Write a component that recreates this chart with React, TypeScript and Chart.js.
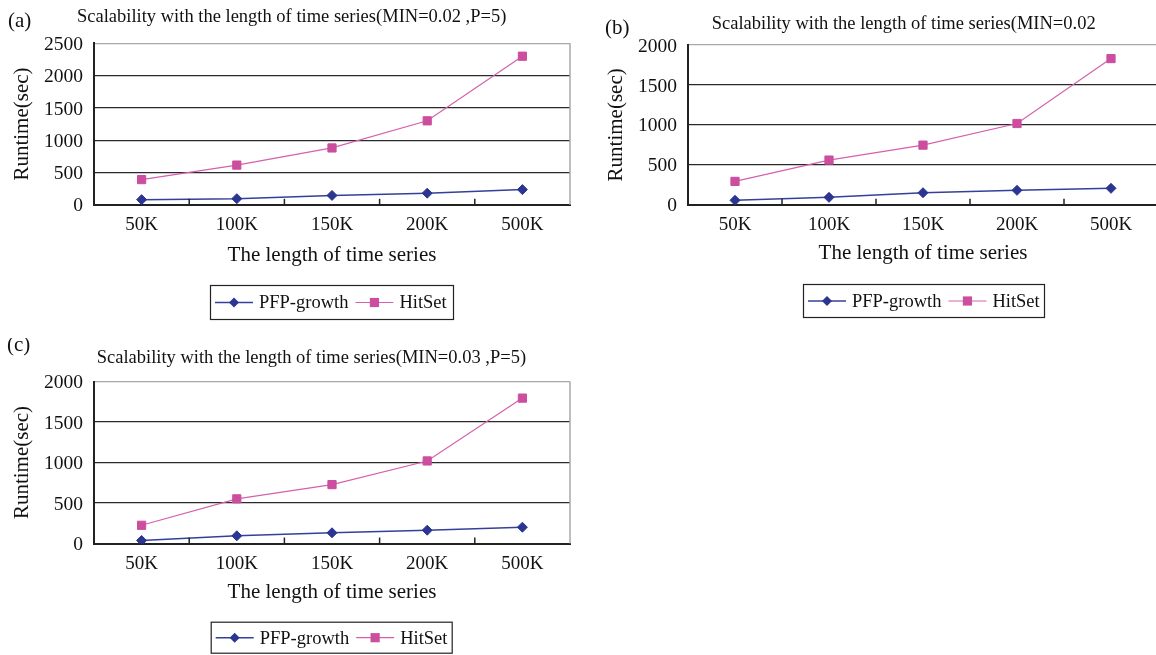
import React, { useEffect, useRef } from "react";
import { Chart, registerables } from "chart.js";

Chart.register(...registerables);

// ---------- data ----------
const categories = ["50K", "100K", "150K", "200K", "500K"];
const seriesNames = ["PFP-growth", "HitSet"];

const pfpA = [80, 95, 145, 180, 235];
const hitA = [390, 615, 880, 1300, 2300];
const pfpB = [55, 92, 150, 180, 205];
const hitB = [292, 559, 746, 1017, 1830];
const pfpC = [37, 95, 132, 164, 201];
const hitC = [225, 551, 727, 1019, 1795];

const yMaxA = 2500;
const yMaxB = 2000;
const yMaxC = 2000;
const yStep = 500;

const titleA = "Scalability with the length of time series(MIN=0.02 ,P=5)";
const titleB = "Scalability with the length of time series(MIN=0.02";
const titleC = "Scalability with the length of time series(MIN=0.03 ,P=5)";
const yTitle = "Runtime(sec)";
const xTitle = "The length of time series";

// ---------- styling ----------
const FONT = '"Liberation Serif", "Times New Roman", serif';
const PFP_COLOR = "#2B3592";
const PFP_LINE = "#34409A";
const HIT_COLOR = "#CC4E9E";
const HIT_LINE = "#D660AC";

type Panel = {
  key: string;
  left: number;
  top: number;
  width: number;
  height: number;
  plot: { left: number; top: number; right: number; bottom: number };
  label: string;
  labelPos: [number, number];
  title: string;
  titlePos: [number, number];
  legend: { x: number; y: number; w: number; h: number };
  xTitlePad: number;
  pfp: number[];
  hit: number[];
  yMax: number;
};

const panels: Panel[] = [
  {
    key: "a",
    left: 0,
    top: 0,
    width: 590,
    height: 330,
    plot: { left: 94, top: 43.3, right: 570, bottom: 204.8 },
    label: "(a)",
    labelPos: [8, 21],
    title: titleA,
    titlePos: [77, 17],
    legend: { x: 210, y: 285, w: 243, h: 34 },
    xTitlePad: 62,
    pfp: pfpA,
    hit: hitA,
    yMax: yMaxA,
  },
  {
    key: "b",
    left: 594,
    top: 0,
    width: 590,
    height: 330,
    plot: { left: 94, top: 45, right: 564, bottom: 204.7 },
    label: "(b)",
    labelPos: [11, 28],
    title: titleB,
    titlePos: [117.7, 24],
    legend: { x: 209, y: 284, w: 241, h: 33 },
    xTitlePad: 64,
    pfp: pfpB,
    hit: hitB,
    yMax: yMaxB,
  },
  {
    key: "c",
    left: 0,
    top: 338,
    width: 590,
    height: 317,
    plot: { left: 94, top: 43.5, right: 570, bottom: 205.5 },
    label: "(c)",
    labelPos: [7, 7],
    title: titleC,
    titlePos: [96.7, 20],
    legend: { x: 210.7, y: 283.7, w: 241, h: 31 },
    xTitlePad: 50,
    pfp: pfpC,
    hit: hitC,
    yMax: yMaxC,
  },
];

function drawMarker(ctx: CanvasRenderingContext2D, style: string, x: number, y: number, color: string) {
  ctx.fillStyle = color;
  ctx.beginPath();
  if (style === "rectRot") {
    const r = 5;
    ctx.moveTo(x - r, y);
    ctx.lineTo(x, y - r);
    ctx.lineTo(x + r, y);
    ctx.lineTo(x, y + r);
    ctx.closePath();
  } else {
    const s = 4.6;
    ctx.rect(x - s, y - s, 2 * s, 2 * s);
  }
  ctx.fill();
}

function makeDeco(p: Panel) {
  return {
    id: "deco_" + p.key,
    afterDraw(chart: any) {
      const { ctx, chartArea } = chart;
      const xs = chart.scales.x;
      ctx.save();
      // right border
      ctx.strokeStyle = "#A8A8A8";
      ctx.lineWidth = 1.5;
      ctx.beginPath();
      ctx.moveTo(chartArea.right, chartArea.top);
      ctx.lineTo(chartArea.right, chartArea.bottom);
      ctx.stroke();
      // inner tick marks between categories
      ctx.strokeStyle = "#222";
      ctx.lineWidth = 1.5;
      for (let i = 1; i < categories.length; i++) {
        const bx = (xs.getPixelForValue(i - 1) + xs.getPixelForValue(i)) / 2;
        ctx.beginPath();
        ctx.moveTo(bx, chartArea.bottom);
        ctx.lineTo(bx, chartArea.bottom - 6);
        ctx.stroke();
      }
      // panel label
      ctx.fillStyle = "#111";
      ctx.textBaseline = "middle";
      ctx.textAlign = "left";
      ctx.font = `21px ${FONT}`;
      ctx.fillText(p.label, p.labelPos[0], p.labelPos[1]);
      // title
      ctx.font = `18.5px ${FONT}`;
      ctx.fillText(p.title, p.titlePos[0], p.titlePos[1]);
      // legend
      const L = p.legend;
      ctx.strokeStyle = "#222";
      ctx.lineWidth = 1.2;
      ctx.strokeRect(L.x + 0.5, L.y + 0.5, L.w, L.h);
      const cy = L.y + L.h / 2 + 0.5;
      let cx = L.x + 5;
      ctx.font = `18.5px ${FONT}`;
      chart.data.datasets.forEach((ds: any) => {
        ctx.strokeStyle = ds.borderColor;
        ctx.lineWidth = ds.borderWidth;
        ctx.beginPath();
        ctx.moveTo(cx, cy);
        ctx.lineTo(cx + 38, cy);
        ctx.stroke();
        drawMarker(ctx, ds.pointStyle, cx + 19, cy, ds.pointBackgroundColor);
        ctx.fillStyle = "#111";
        ctx.fillText(ds.label, cx + 44, cy + 1);
        cx = cx + 44 + ctx.measureText(ds.label).width + 7;
      });
      ctx.restore();
    },
  };
}

function PanelChart({ p }: { p: Panel }) {
  const ref = useRef<HTMLCanvasElement | null>(null);
  useEffect(() => {
    if (!ref.current) return;
    const xHeight = p.height - p.plot.bottom;
    const chart = new Chart(ref.current, {
      type: "line",
      data: {
        labels: categories,
        datasets: [
          {
            label: seriesNames[0],
            data: p.pfp,
            borderColor: PFP_LINE,
            borderWidth: 1.5,
            pointStyle: "rectRot",
            pointRadius: 5,
            pointBackgroundColor: PFP_COLOR,
            pointBorderColor: PFP_COLOR,
            pointBorderWidth: 1,
            tension: 0,
          },
          {
            label: seriesNames[1],
            data: p.hit,
            borderColor: HIT_LINE,
            borderWidth: 1.2,
            pointStyle: "rect",
            pointRadius: 5.8,
            pointBackgroundColor: HIT_COLOR,
            pointBorderColor: HIT_COLOR,
            pointBorderWidth: 1,
            tension: 0,
          },
        ],
      },
      options: {
        animation: false,
        responsive: false,
        maintainAspectRatio: false,
        devicePixelRatio: 1,
        color: "#111",
        layout: {
          padding: { left: 0, top: p.plot.top, right: p.width - p.plot.right, bottom: 0 },
        },
        plugins: {
          legend: { display: false },
          title: { display: false },
          tooltip: { enabled: false },
        },
        scales: {
          x: {
            type: "category",
            offset: true,
            grid: { display: false, drawTicks: false },
            border: { display: true, color: "#222", width: 2 },
            ticks: { color: "#111", font: { family: FONT, size: 19 }, padding: 9, maxRotation: 0 },
            title: {
              display: true,
              text: xTitle,
              color: "#111",
              font: { family: FONT, size: 21 },
              padding: { top: 0, bottom: p.xTitlePad },
            },
            afterFit: (s: any) => {
              s.height = xHeight;
            },
          },
          y: {
            min: 0,
            max: p.yMax,
            ticks: {
              stepSize: yStep,
              color: "#111",
              font: { family: FONT, size: 19.5 },
              padding: 11,
              labelOffset: 1.5,
              callback: (v: any) => String(v),
            },
            grid: {
              drawTicks: false,
              color: (c: any) => (c.tick && c.tick.value === p.yMax ? "#A8A8A8" : "#2A2A2A"),
              lineWidth: 1.3,
            },
            border: { display: true, color: "#222", width: 2 },
            title: {
              display: true,
              text: yTitle,
              color: "#111",
              font: { family: FONT, size: 21 },
              padding: { top: 10, bottom: 0 },
            },
            afterFit: (s: any) => {
              s.width = p.plot.left;
            },
          },
        },
      } as any,
      plugins: [makeDeco(p)],
    });
    return () => chart.destroy();
  }, [p]);
  return (
    <canvas
      ref={ref}
      width={p.width}
      height={p.height}
      style={{ position: "absolute", left: p.left, top: p.top, width: p.width, height: p.height }}
    />
  );
}

export default function App() {
  return (
    <div
      style={{
        position: "fixed",
        left: 0,
        top: 0,
        width: 1156,
        height: 655,
        overflow: "hidden",
        background: "#fff",
      }}
    >
      {panels.map((p) => (
        <PanelChart key={p.key} p={p} />
      ))}
    </div>
  );
}
